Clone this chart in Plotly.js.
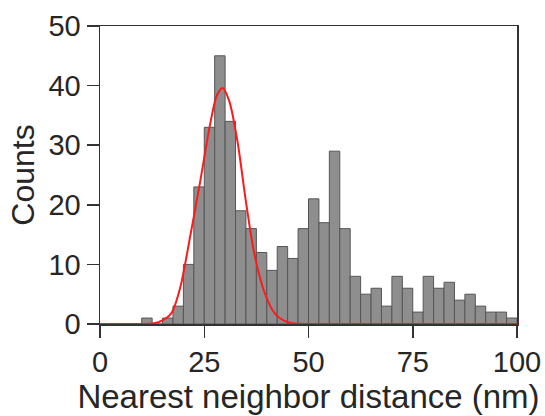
<!DOCTYPE html>
<html>
<head>
<meta charset="utf-8">
<script src="https://cdn.plot.ly/plotly-3.0.1.min.js"></script>
<style>html,body{margin:0;padding:0;background:#fff;}#chart{width:545px;height:416px;}</style>
</head>
<body>
<div id="chart"></div>
<script>
// Histogram bins (left edge, nm) and counts per 2.5 nm bin
const binLeft = [0, 2.5, 5, 7.5, 10, 12.5, 15, 17.5, 20, 22.5, 25, 27.5, 30, 32.5, 35, 37.5, 40, 42.5, 45, 47.5,
                 50, 52.5, 55, 57.5, 60, 62.5, 65, 67.5, 70, 72.5, 75, 77.5, 80, 82.5, 85, 87.5, 90, 92.5, 95, 97.5];
const counts  = [0, 0, 0, 0, 1, 0, 1, 3, 10, 23, 33, 45, 34, 19, 16, 12, 9, 13, 11, 16,
                 21, 17, 29, 16, 8, 5, 6, 3, 8, 6, 2, 8, 6, 7, 4, 5, 3, 2, 2, 1];
const binWidth = 2.5;

// Gaussian fit curve
const fitX = [0, 10, 12, 14, 17, 19.2, 21.6, 24, 26.4, 28, 29.4, 31, 33, 35, 37, 39.5, 42, 45, 47, 50, 100];
const fitY = [0, 0, 0.05, 0.3, 1.7, 6.0, 14.6, 23.8, 33.5, 38.3, 39.6, 37.4, 30.5, 20.5, 11.8, 5.2, 1.7, 0.3, 0.08, 0, 0];

const xTicks = [0, 25, 50, 75, 100];
const yTicks = [0, 10, 20, 30, 40, 50];

const font = 'Liberation Sans, Arial, Helvetica, sans-serif';
const txt = '#262626';

const traces = [
  {
    type: 'bar',
    x: binLeft,
    y: counts,
    width: binWidth,
    offset: 0,
    marker: {color: '#8e8e8e', line: {color: '#555555', width: 1}},
    hoverinfo: 'skip'
  },
  {
    type: 'scatter',
    mode: 'lines',
    x: fitX,
    y: fitY,
    line: {color: '#ff1a1a', width: 2, shape: 'spline', smoothing: 0.8},
    hoverinfo: 'skip'
  }
];

const layout = {
  width: 545,
  height: 416,
  margin: {l: 100, r: 28, t: 26, b: 92, pad: 0},
  paper_bgcolor: '#ffffff',
  plot_bgcolor: '#ffffff',
  showlegend: false,
  bargap: 0,
  font: {family: font, color: txt},
  xaxis: {
    range: [0, 100],
    tickvals: xTicks,
    ticktext: xTicks.map(String),
    ticks: 'outside',
    ticklen: 12,
    tickwidth: 1.5,
    tickcolor: '#333333',
    showline: true,
    linecolor: '#333333',
    linewidth: 1.5,
    mirror: true,
    showgrid: false,
    zeroline: false,
    layer: 'below traces',
    tickfont: {family: font, size: 29, color: txt},
    title: {text: 'Nearest neighbor distance (nm)', font: {family: font, size: 33, color: txt}, standoff: 3},
    automargin: false
  },
  yaxis: {
    range: [0, 50],
    tickvals: yTicks,
    ticktext: yTicks.map(String),
    ticks: 'outside',
    ticklen: 12,
    tickwidth: 1.5,
    tickcolor: '#333333',
    showline: true,
    linecolor: '#333333',
    linewidth: 1.5,
    mirror: true,
    showgrid: false,
    zeroline: false,
    tickfont: {family: font, size: 29, color: txt},
    title: {text: 'Counts', font: {family: font, size: 32, color: txt}, standoff: 4},
    automargin: false
  }
};

Plotly.newPlot('chart', traces, layout, {staticPlot: true, displayModeBar: false});
</script>
</body>
</html>
